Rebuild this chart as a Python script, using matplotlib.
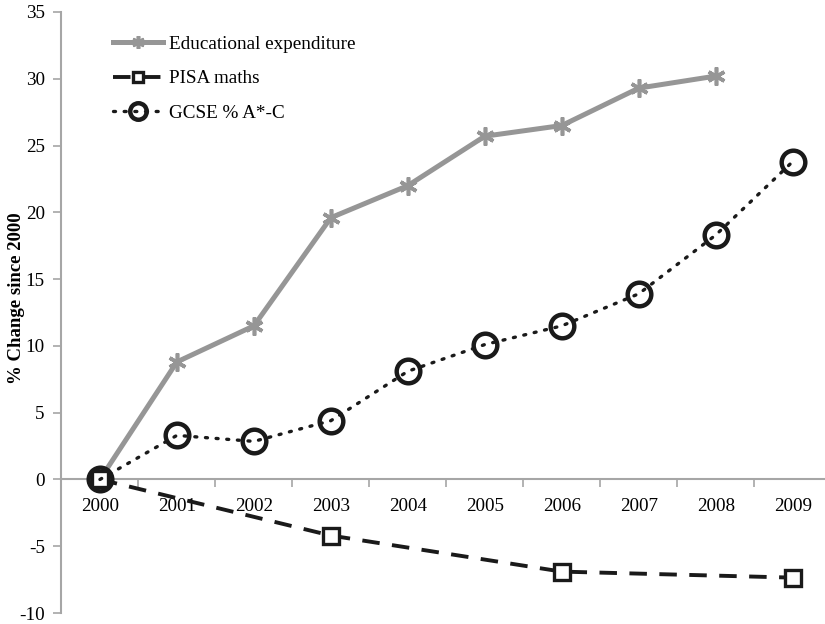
import numpy as np
import matplotlib
matplotlib.use("Agg")
import matplotlib.pyplot as plt

years = ["2000", "2001", "2002", "2003", "2004", "2005", "2006", "2007", "2008", "2009"]
expenditure = [0, 8.8, 11.5, 19.6, 22.0, 25.7, 26.5, 29.3, 30.2, np.nan]
pisa_years = [0, 3, 6, 9]
pisa = [0, -4.2, -6.9, -7.35]
gcse = [0, 3.3, 2.85, 4.4, 8.1, 10.1, 11.5, 13.9, 18.3, 23.8]

plt.rcParams["font.family"] = ["Liberation Serif", "DejaVu Serif"]
plt.rcParams["axes.unicode_minus"] = False
axis_grey = "#a6a6a6"

fig = plt.figure(figsize=(8.25, 6.24), dpi=100)
ax = fig.add_axes([0.0745, 0.0176, 0.933, 0.9632])

x = np.arange(len(years))
ax.plot(x, expenditure, color="#969696", lw=3.6, marker=(6, 2, 0), ms=13,
        mew=2.6, mec="#969696", label="Educational expenditure", zorder=3)
ax.plot(pisa_years, pisa, color="#1a1a1a", lw=2.8, dashes=(4.5, 3.2),
        marker="s", ms=11, mfc="white", mec="#1a1a1a", mew=2.4,
        label="PISA maths", zorder=4)
ax.plot(x, gcse, color="#1a1a1a", lw=2.4, dashes=(0.6, 2.6), dash_capstyle="round",
        marker="o", ms=17, mfc="none", mec="#1a1a1a", mew=3.2,
        label="GCSE % A*-C", zorder=5)

ax.set_xlim(-0.5, 9.5)
ax.set_ylim(-10, 35)
ax.set_yticks(np.arange(-10, 36, 5))
ax.set_xticks(x)
ax.set_xticklabels(years)
ax.set_xticks(np.arange(0.5, 9.5, 1), minor=True)
ax.tick_params(axis="x", which="major", length=0, pad=13, labelsize=13.8)
ax.tick_params(axis="x", which="minor", length=6, width=1.2, color=axis_grey, direction="out")
ax.tick_params(axis="y", length=6, width=1.2, color=axis_grey, labelsize=13.8, pad=6)

for s in ["top", "right"]:
    ax.spines[s].set_visible(False)
ax.spines["bottom"].set_position(("data", 0))
ax.spines["bottom"].set_color(axis_grey)
ax.spines["bottom"].set_linewidth(1.5)
ax.spines["left"].set_color(axis_grey)
ax.spines["left"].set_linewidth(1.5)

ax.set_ylabel("% Change since 2000", fontsize=13.5, fontweight="bold")
ax.yaxis.set_label_coords(-0.047, 0.524)

ax.legend(loc="upper left", bbox_to_anchor=(0.045, 0.99), frameon=False,
          fontsize=13.8, handlelength=2.6, handletextpad=0.3, labelspacing=0.9,
          markerscale=0.7)

fig.savefig("out.png", dpi=100)
